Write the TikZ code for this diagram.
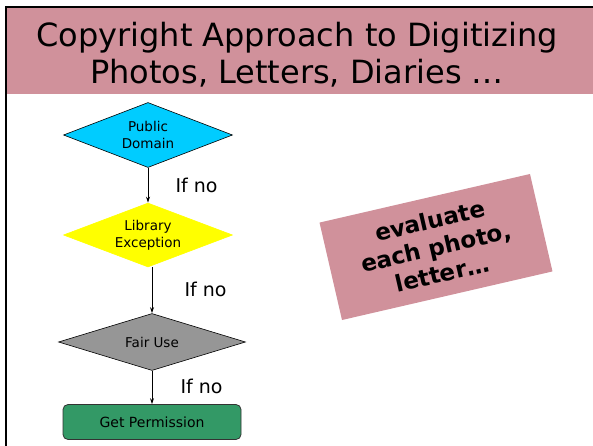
\documentclass[tikz,border=0pt]{standalone}
\usepackage{fontspec}
\setmainfont{DejaVu Sans}
\usetikzlibrary{shapes.geometric,arrows.meta}

\definecolor{titlepink}{RGB}{208,145,155}
\definecolor{pdcyan}{RGB}{0,204,255}
\definecolor{leyellow}{RGB}{255,255,0}
\definecolor{fugray}{RGB}{150,150,150}
\definecolor{gpgreen}{RGB}{51,153,102}

\tikzset{
  decision/.style={diamond,draw=black,line width=0.6pt,inner sep=0pt,aspect=2.6,
    align=center,font=\fontsize{13.5pt}{17pt}\selectfont},
  flowarrow/.style={-{Stealth[length=6pt,width=4pt]},line width=0.8pt,black},
  ifno/.style={font=\fontsize{19pt}{21pt}\selectfont,anchor=west}
}

\begin{document}
\begin{tikzpicture}[x=1pt,y=-1pt]
                  \useasboundingbox (0,0) rectangle (593,446);
                  % title band
                  \fill [titlepink] (7,8) rectangle (593,94);
                  \draw [line width=2, black] (6,446) -- (6,7) -- (593,7);
                  \node [align=center,font=\fontsize{32pt}{37pt}\selectfont] (title) at (297,55) {Copyright Approach to Digitizing\\Photos, Letters, Diaries \dots};
                  % Public Domain
                  \node [decision,fill=pdcyan,minimum width=169,minimum height=65] (pd) at (148,135) {Public\\Domain};
                  % Library Exception
                  \node [decision,fill=leyellow,draw=leyellow,minimum width=169,minimum height=64] (le) at (148,235) {Library\\Exception};
                  % Fair Use
                  \node [decision,fill=fugray,minimum width=187,minimum height=57] (fu) at (152,342) {Fair Use};
                  % Get Permission
                  \node [draw=black!80,line width=0.8pt,fill=gpgreen,rounded corners=5,minimum width=178,minimum height=35,
                         font=\fontsize{14pt}{16pt}\selectfont] (gp) at (152,422) {Get Permission};
                  % arrows down
                  \draw [flowarrow] (pd.south) -- (le.north);
                  \draw [flowarrow] (le.south -| fu.north) -- (fu.north);
                  \draw [flowarrow] (fu.south) -- (gp.north);
                  % if no labels
                  \node [ifno] (ifno1) at (172,185) {If no};
                  \node [ifno] (ifno2) at (181,289) {If no};
                  \node [ifno] (ifno3) at (177,386) {If no};
                  % evaluate box
                  \node [fill=titlepink,rotate=13,minimum width=216,minimum height=100,align=center,
                         font=\bfseries\fontsize{23pt}{27pt}\selectfont] (eval) at (436,247) {evaluate\\each photo,\\letter\dots};
\end{tikzpicture}
\end{document}
